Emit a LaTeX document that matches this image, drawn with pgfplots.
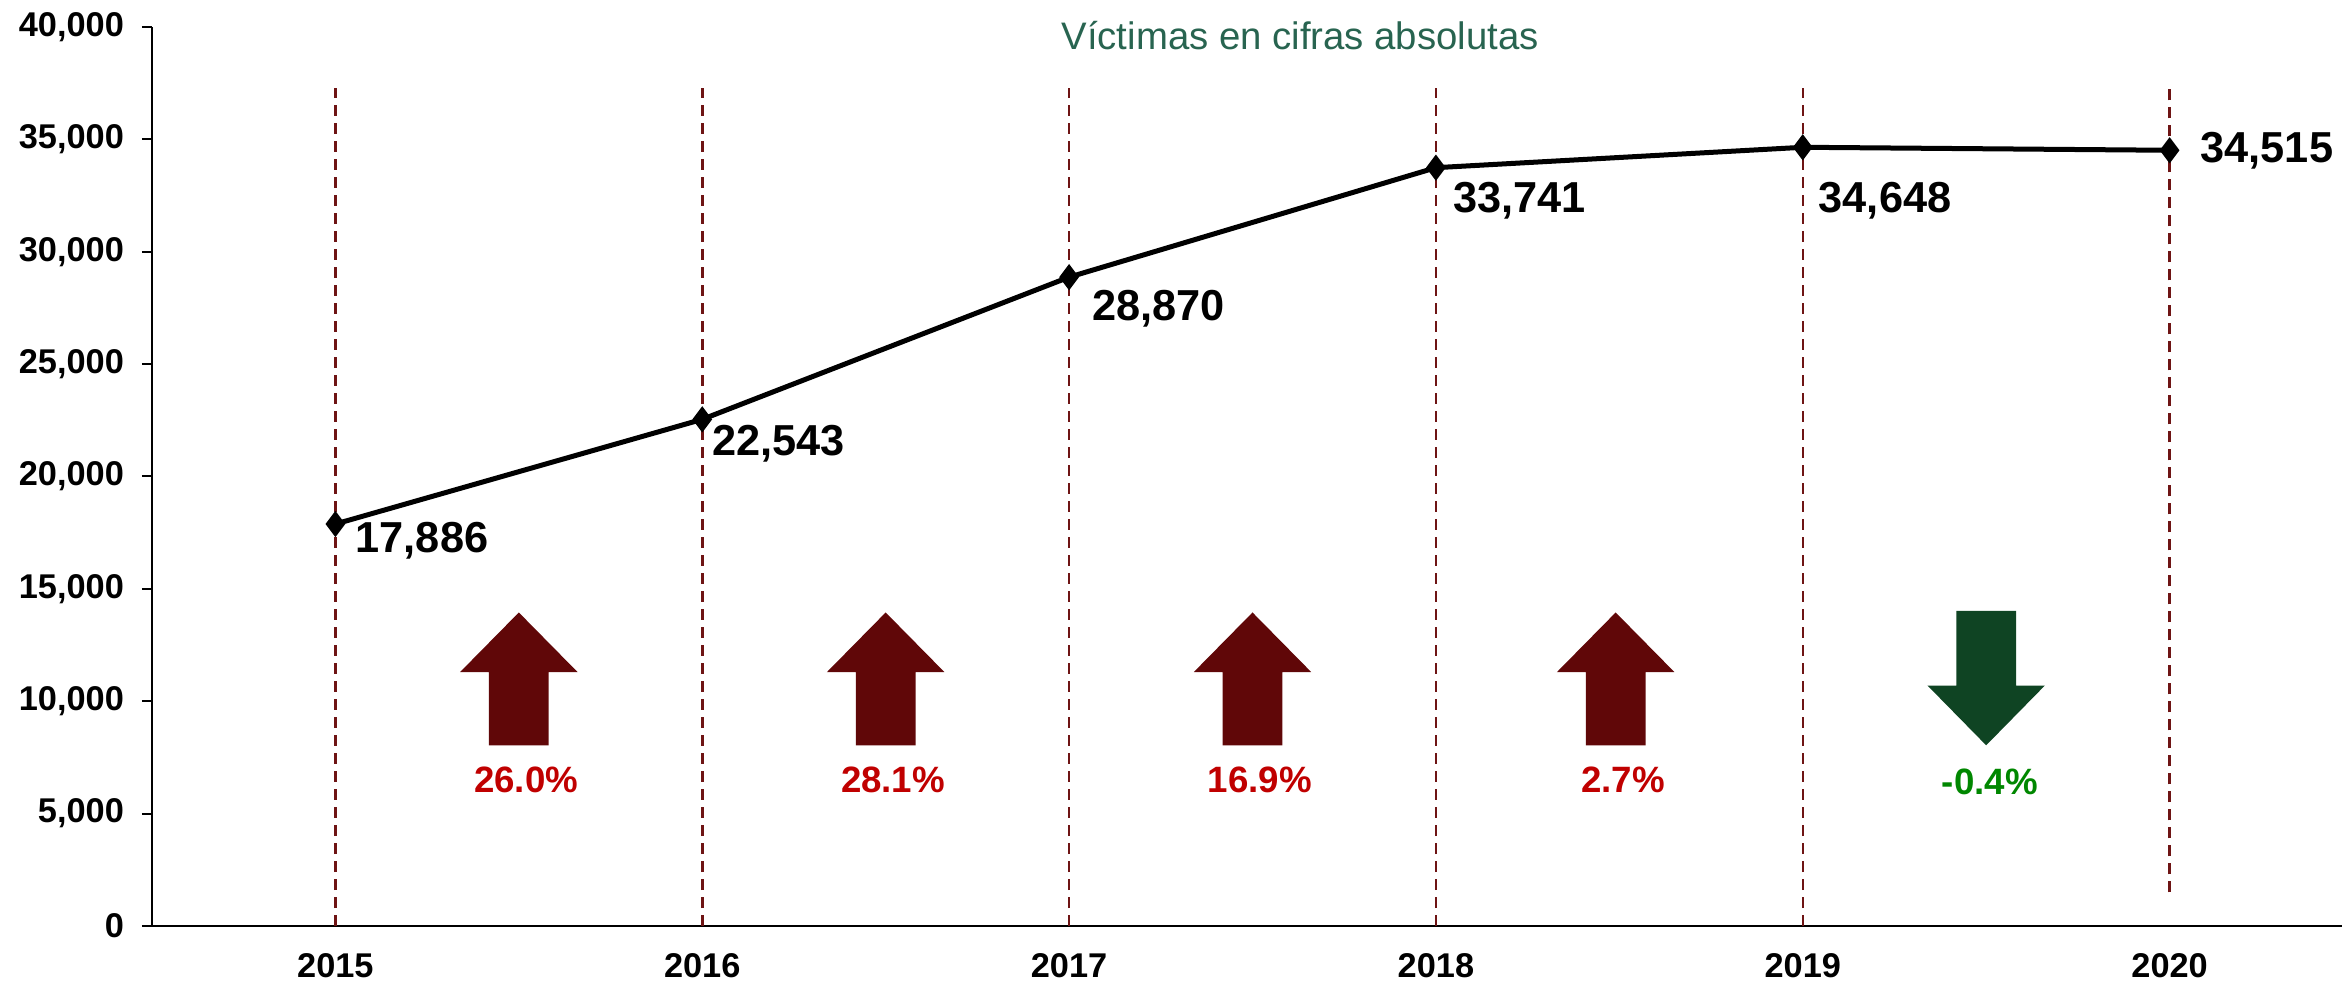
\documentclass[border=0pt]{standalone}
\usepackage{pgfplots}
\pgfplotsset{compat=1.18}
\usepackage{fontspec}
\setmainfont{Liberation Sans}
\definecolor{dashcol}{RGB}{110,20,20}
\definecolor{uparrow}{RGB}{96,7,8}
\definecolor{downarrow}{RGB}{15,68,35}
\definecolor{pctred}{RGB}{192,0,0}
\definecolor{pctgreen}{RGB}{0,135,0}
\definecolor{titlecol}{RGB}{40,100,80}
\begin{document}
\begin{tikzpicture}
\begin{axis}[
  at={(0,0)}, anchor=south west,
  scale only axis,
  width=657pt, height=269.7pt,
  xmin=-0.5, xmax=5.47,
  ymin=0, ymax=40000,
  axis lines*=left,
  clip=false,
  xtick={0,1,2,3,4,5},
  xticklabels={2015,2016,2017,2018,2019,2020},
  minor xtick={0.5,1.5,2.5,3.5,4.5},
  xtick style={draw=none},
  minor tick length=3pt,
  major tick length=3pt,
  tick align=outside,
  ytick={0,5000,...,40000},
  scaled y ticks=false,
  /pgf/number format/assume math mode=true,
  /pgf/number format/1000 sep={,},
  ticklabel style={font=\bfseries\fontsize{10.3}{12}\selectfont},
  yticklabel style={xshift=-1.8pt},
  xticklabel style={yshift=-1.5pt},
  every axis/.append style={line width=0.6pt},
  tick style={black, line width=0.6pt},
]
% vertical dashed reference lines
\addplot[dashcol, line width=0.75pt, dash pattern=on 3.3pt off 2.1pt] coordinates {(0,0) (0,37300)};
\addplot[dashcol, line width=0.75pt, dash pattern=on 3.3pt off 2.1pt] coordinates {(1,0) (1,37300)};
\addplot[dashcol, line width=0.75pt, dash pattern=on 3.3pt off 2.1pt] coordinates {(2,0) (2,37300)};
\addplot[dashcol, line width=0.75pt, dash pattern=on 3.3pt off 2.1pt] coordinates {(3,0) (3,37300)};
\addplot[dashcol, line width=0.75pt, dash pattern=on 3.3pt off 2.1pt] coordinates {(4,0) (4,37300)};
\addplot[dashcol, line width=0.75pt, dash pattern=on 3.3pt off 2.1pt] coordinates {(5,1500) (5,37300)};
% main series
\addplot[black, line width=1.5pt, mark=diamond*, mark size=2.7pt, mark options={solid}] coordinates {
 (0,17886) (1,22543) (2,28870) (3,33741) (4,34648) (5,34515)};
% data labels
\begin{scope}[every node/.style={font=\bfseries\fontsize{13}{15}\selectfont, anchor=west, inner sep=0pt}]
\node[xshift=5.8pt, yshift=-4.9pt] at (axis cs:0,17886) {17,886};
\node[xshift=2.7pt, yshift=-7.2pt] at (axis cs:1,22543) {22,543};
\node[xshift=6.7pt, yshift=-9.4pt] at (axis cs:2,28870) {28,870};
\node[xshift=4.9pt, yshift=-9.9pt] at (axis cs:3,33741) {33,741};
\node[xshift=4.5pt, yshift=-16pt] at (axis cs:4,34648) {34,648};
\node[xshift=9pt, yshift=0pt] at (axis cs:5,34515) {34,515};
\end{scope}
% arrows
\fill[uparrow] (axis cs:0.4185,8040) -- (axis cs:0.4185,11300) -- (axis cs:0.34,11300) -- (axis cs:0.5,13950) -- (axis cs:0.66,11300) -- (axis cs:0.5815,11300) -- (axis cs:0.5815,8040) -- cycle;
\fill[uparrow] (axis cs:1.4185,8040) -- (axis cs:1.4185,11300) -- (axis cs:1.34,11300) -- (axis cs:1.5,13950) -- (axis cs:1.66,11300) -- (axis cs:1.5815,11300) -- (axis cs:1.5815,8040) -- cycle;
\fill[uparrow] (axis cs:2.4185,8040) -- (axis cs:2.4185,11300) -- (axis cs:2.34,11300) -- (axis cs:2.5,13950) -- (axis cs:2.66,11300) -- (axis cs:2.5815,11300) -- (axis cs:2.5815,8040) -- cycle;
\fill[uparrow] (axis cs:3.4085,8040) -- (axis cs:3.4085,11300) -- (axis cs:3.33,11300) -- (axis cs:3.49,13950) -- (axis cs:3.65,11300) -- (axis cs:3.5715,11300) -- (axis cs:3.5715,8040) -- cycle;
\fill[downarrow] (axis cs:4.4185,14020) -- (axis cs:4.4185,10700) -- (axis cs:4.34,10700) -- (axis cs:4.5,8040) -- (axis cs:4.66,10700) -- (axis cs:4.5815,10700) -- (axis cs:4.5815,14020) -- cycle;
% percentages
\begin{scope}[every node/.style={font=\bfseries\fontsize{11}{13}\selectfont, anchor=center, inner sep=0pt}]
\node[text=pctred] at (axis cs:0.52,6500) {26.0\%};
\node[text=pctred] at (axis cs:1.52,6500) {28.1\%};
\node[text=pctred] at (axis cs:2.52,6500) {16.9\%};
\node[text=pctred] at (axis cs:3.51,6500) {2.7\%};
\node[text=pctgreen] at (axis cs:4.51,6400) {-0.4\%};
\end{scope}
% title
\node[text=titlecol, font=\fontsize{11.5}{13}\selectfont, anchor=center, inner sep=0pt] at (axis cs:2.63,39600) {Víctimas en cifras absolutas};
\end{axis}
\pgfresetboundingbox
\path[use as bounding box] (-45.6pt,-16.2pt) rectangle (657.3pt,277.8pt);
\end{tikzpicture}
\end{document}
